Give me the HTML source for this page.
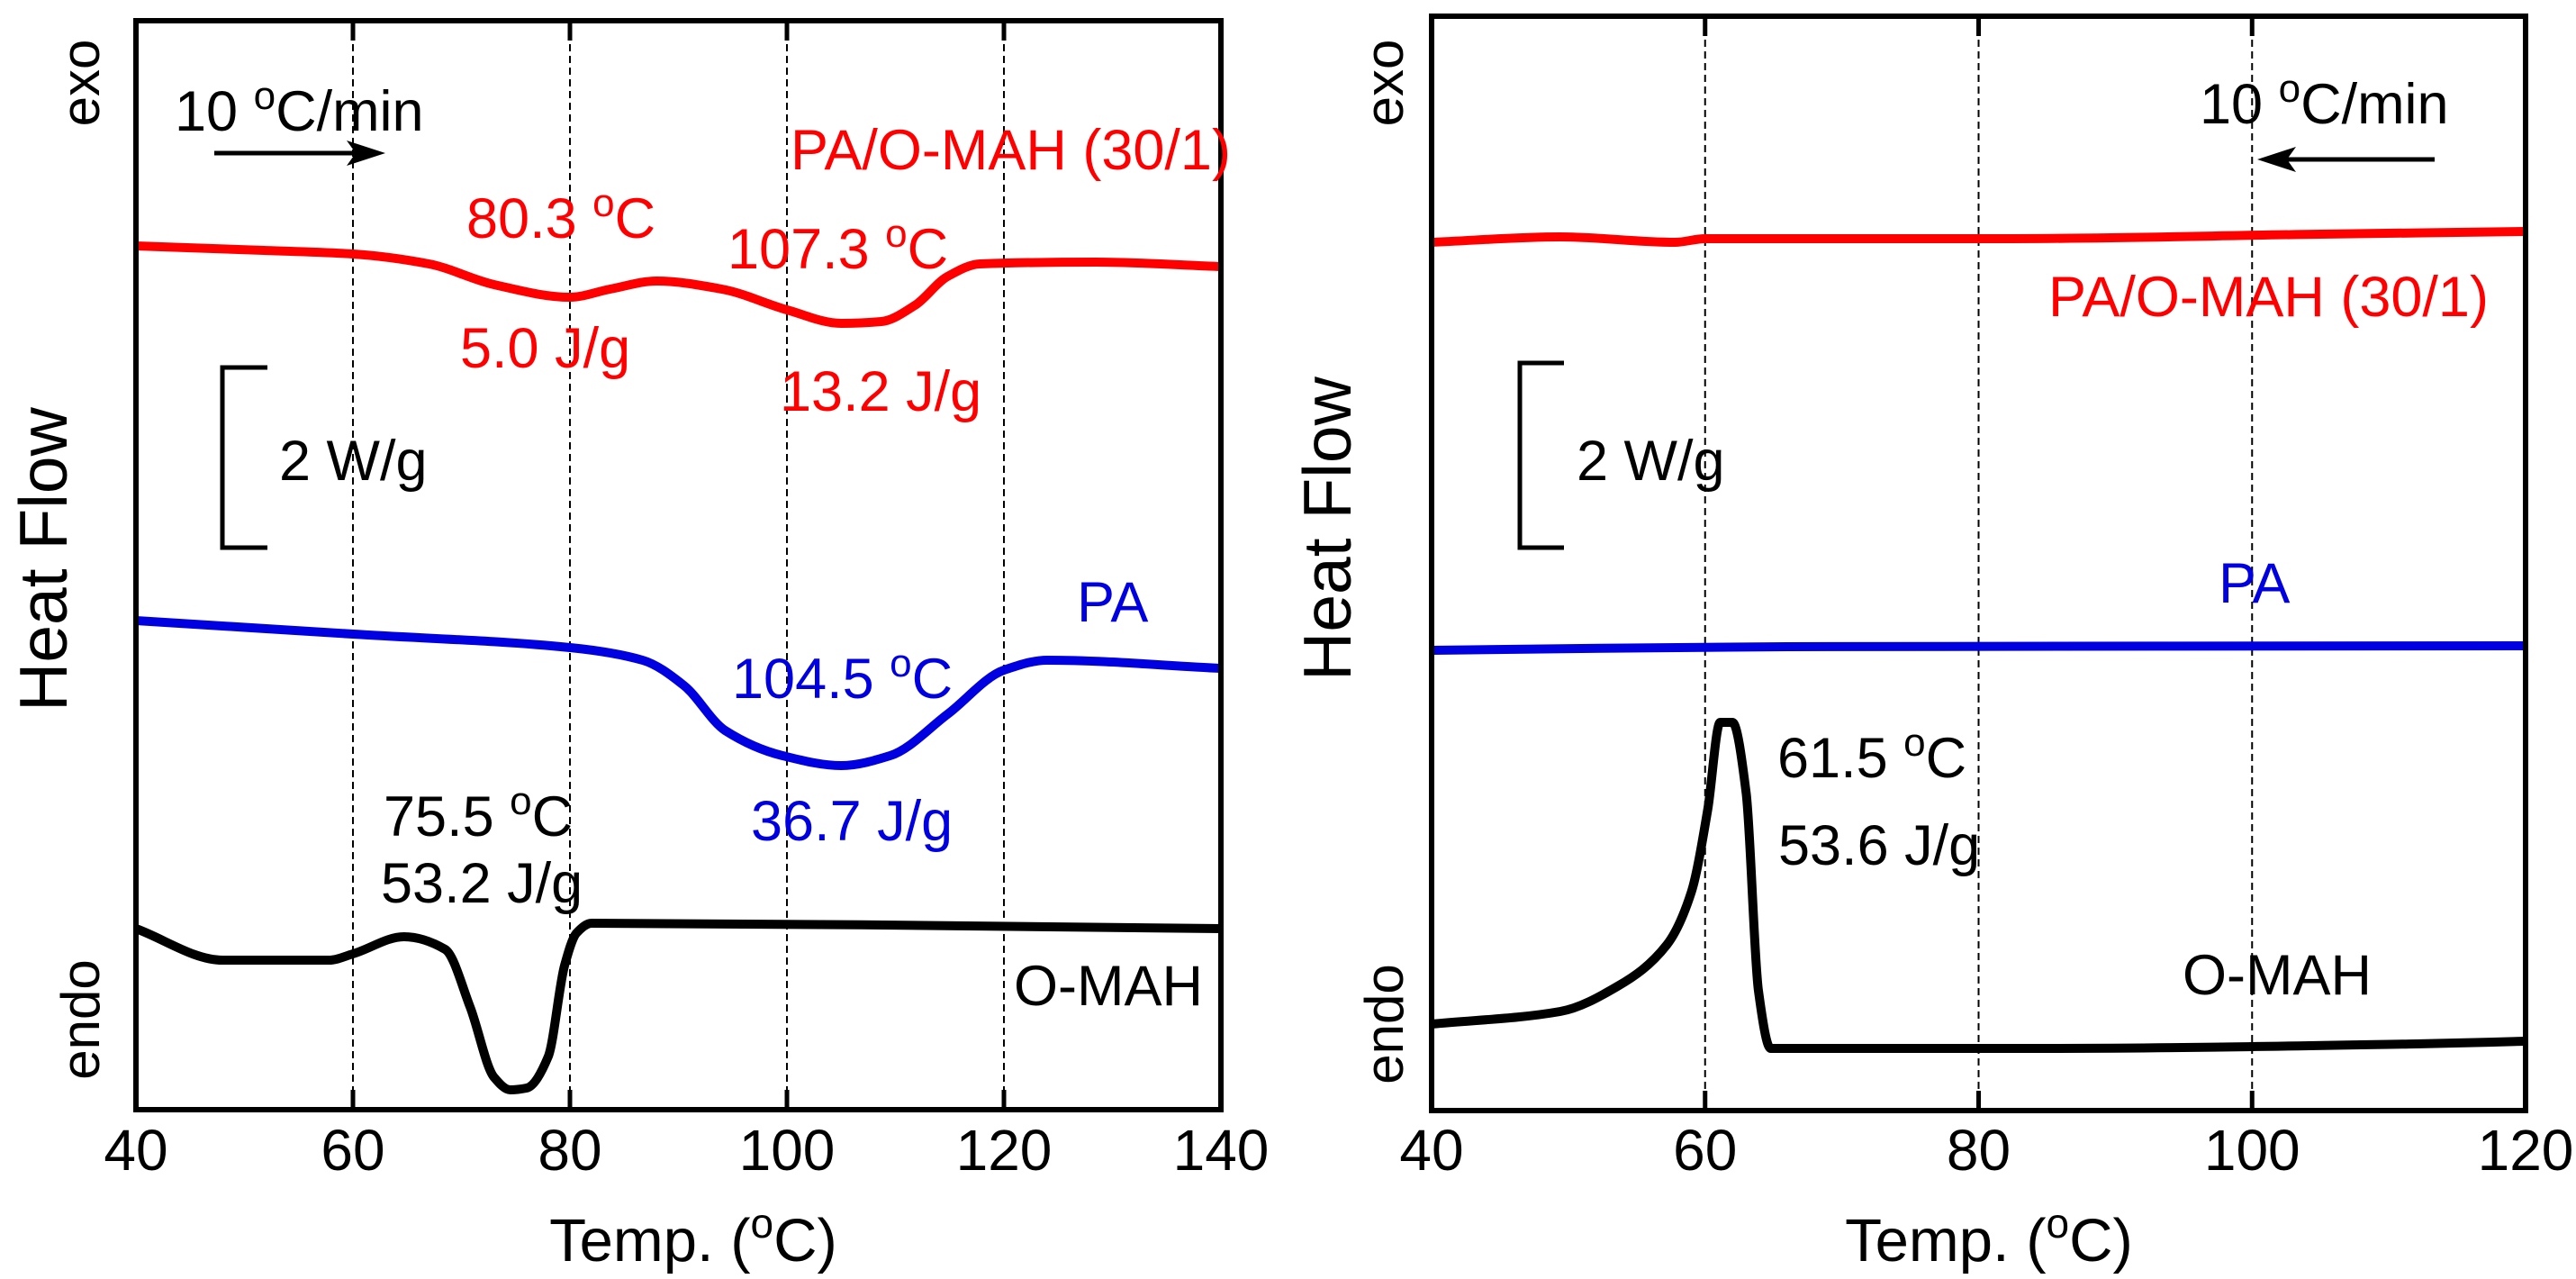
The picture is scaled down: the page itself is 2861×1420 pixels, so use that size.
<!DOCTYPE html>
<html><head><meta charset="utf-8"><style>
html,body{margin:0;padding:0;background:#fff;}
svg{display:block;font-family:"Liberation Sans",Arial,sans-serif;}
</style></head><body>
<svg id="fig" width="2861" height="1420" viewBox="0 0 2861 1420" xmlns="http://www.w3.org/2000/svg">
<g id="left"></g>
<g id="right"></g>
</svg>
<script>
// Left panel (heating) data: temperature (°C) and heat flow (W/g, offset units)
const L_redT = [40,51.8,60,67,73,80,83.7,88,94,100,105,108.7,111.8,114.8,117.8,128.5,140];
const L_redY = [9.59,9.54,9.50,9.39,9.16,9.02,9.11,9.20,9.11,8.88,8.73,8.75,8.93,9.25,9.39,9.41,9.36];
const L_blueT = [40,60,80,86.7,90.5,94.3,99.6,105,109.5,114.8,120,124,140];
const L_blueY = [5.43,5.28,5.13,4.99,4.71,4.21,3.93,3.82,3.93,4.39,4.88,4.99,4.90];
const L_blackT = [40,48,57.8,60,64.7,68.5,70.8,73,74.5,76,78,79.5,80.6,82,140];
const L_blackY = [2.01,1.66,1.66,1.73,1.92,1.78,1.14,0.36,0.22,0.24,0.59,1.60,1.96,2.07,2.01];
const L_ticks = [40,60,80,100,120,140];
const L_grid = [60,80,100,120];
// Right panel (cooling) data
const R_redT = [40,49.4,57.8,60,82,105,120];
const R_redY = [9.64,9.70,9.64,9.68,9.68,9.73,9.76];
const R_blueT = [40,66,120];
const R_blueY = [5.11,5.15,5.16];
const R_blackT = [40,49.4,53.6,57.2,59,60.2,61.1,62,63,63.9,64.8,84.4,112,120];
const R_blackY = [0.96,1.10,1.38,1.84,2.43,3.35,4.31,4.31,3.53,1.33,0.69,0.69,0.74,0.77];
const R_ticks = [40,60,80,100,120];
const R_grid = [60,80,100];

const NS="http://www.w3.org/2000/svg";
function mk(parent,tag,attrs,text){const e=document.createElementNS(NS,tag);for(const k in attrs)e.setAttribute(k,attrs[k]);if(text!==undefined)e.textContent=text;parent.appendChild(e);return e;}

// monotone cubic (Fritsch-Carlson) path through points with increasing x
function monotone(pts){
  const n=pts.length;
  if(n<3) return 'M'+pts.map(p=>p[0].toFixed(1)+','+p[1].toFixed(1)).join(' L');
  const dx=[],s=[];
  for(let i=0;i<n-1;i++){dx.push(pts[i+1][0]-pts[i][0]);s.push((pts[i+1][1]-pts[i][1])/dx[i]);}
  const m=new Array(n);
  m[0]=s[0];m[n-1]=s[n-2];
  for(let i=1;i<n-1;i++){
    if(s[i-1]*s[i]<=0) m[i]=0;
    else{const w1=2*dx[i]+dx[i-1],w2=dx[i]+2*dx[i-1];m[i]=(w1+w2)/(w1/s[i-1]+w2/s[i]);}
  }
  let d='M'+pts[0][0].toFixed(1)+','+pts[0][1].toFixed(1);
  for(let i=0;i<n-1;i++){
    const h=dx[i]/3;
    d+=' C'+(pts[i][0]+h).toFixed(1)+','+(pts[i][1]+m[i]*h).toFixed(1)+' '+(pts[i+1][0]-h).toFixed(1)+','+(pts[i+1][1]-m[i+1]*h).toFixed(1)+' '+pts[i+1][0].toFixed(1)+','+pts[i+1][1].toFixed(1);
  }
  return d;
}

function panel(g,cfg){
  const x=t=>cfg.x0+(t-cfg.tmin)/(cfg.tmax-cfg.tmin)*(cfg.x1-cfg.x0);
  const y=v=>cfg.yb-v*100;
  cfg.grid.forEach(t=>{
    const l=mk(g,'line',{x1:x(t),x2:x(t),y1:cfg.yt,y2:cfg.yb,stroke:'#000','stroke-width':2,'stroke-dasharray':'8,5'});
    
    
  });
  cfg.ticks.forEach(t=>{
    const a=mk(g,'line',{x1:x(t),x2:x(t),y1:cfg.yb,y2:cfg.yb-22,stroke:'#000','stroke-width':5});
    
    
    const b=mk(g,'line',{x1:x(t),x2:x(t),y1:cfg.yt,y2:cfg.yt+22,stroke:'#000','stroke-width':5});
    
    
    const tx=mk(g,'text',{x:x(t),y:1299,'font-size':64,'text-anchor':'middle'},String(t));
    
    
  });
  cfg.series.forEach(s=>{
    const pts=s.T.map((t,i)=>[x(t),y(s.Y[i])]);
    const p=mk(g,'path',{d:monotone(pts),fill:'none',stroke:s.c,'stroke-width':10,'stroke-linejoin':'round'});
    
    
  });
  const f=mk(g,'rect',{x:cfg.x0,y:cfg.yt,width:cfg.x1-cfg.x0,height:cfg.yb-cfg.yt,fill:'none',stroke:'#000','stroke-width':6});
  
  
}

function txt(g,x,y,s,html,color,name,extra){
  const e=mk(g,'text',Object.assign({x:x,y:y,'font-size':s,fill:color||'#000'},extra||{}));
  e.innerHTML=html;
  
  
  return e;
}
const deg='<tspan dy="-24" font-size="44">o</tspan><tspan dy="24">C</tspan>';
const FS=63;

const gl=document.getElementById('left');
panel(gl,{x0:151,x1:1356,yt:23,yb:1232,tmin:40,tmax:140,ticks:L_ticks,grid:L_grid,series:[
 {T:L_redT,Y:L_redY,c:'#ff0000',n:'pa-o-mah-curve'},
 {T:L_blueT,Y:L_blueY,c:'#0000e0',n:'pa-curve'},
 {T:L_blackT,Y:L_blackY,c:'#000',n:'o-mah-curve'}]});
const gr=document.getElementById('right');
panel(gr,{x0:1590,x1:2805,yt:18,yb:1233,tmin:40,tmax:120,ticks:R_ticks,grid:R_grid,series:[
 {T:R_redT,Y:R_redY,c:'#ff0000',n:'pa-o-mah-curve'},
 {T:R_blueT,Y:R_blueY,c:'#0000e0',n:'pa-curve'},
 {T:R_blackT,Y:R_blackY,c:'#000',n:'o-mah-curve'}]});

// Left annotations
txt(gl,194,145,FS,'10 '+deg+'/min','#000','rate-label');
mk(gl,'line',{x1:238,y1:170,x2:420,y2:170,stroke:'#000','stroke-width':5});
mk(gl,'path',{d:'M428,170 L385,156 L395,170 L385,184 Z',fill:'#000'});
txt(gl,878,188,FS,'PA/O-MAH (30/1)','#ff0000','pa-o-mah-label');
txt(gl,518,264,FS,'80.3 '+deg,'#ff0000','peak1-temp');
txt(gl,808,298,FS,'107.3 '+deg,'#ff0000','peak2-temp');
txt(gl,511,408,FS,'5.0 J/g','#ff0000','peak1-enthalpy');
txt(gl,866,456,FS,'13.2 J/g','#ff0000','peak2-enthalpy');
mk(gl,'path',{d:'M297,408 L247,408 L247,608 L297,608',fill:'none',stroke:'#000','stroke-width':5});
txt(gl,310,533,FS,'2 W/g','#000','scale-bar-label');
txt(gl,1196,690,FS,'PA','#0000e0','pa-label');
txt(gl,813,775,FS,'104.5 '+deg,'#0000e0','pa-peak-temp');
txt(gl,834,933,FS,'36.7 J/g','#0000e0','pa-enthalpy');
txt(gl,426,928,FS,'75.5 '+deg,'#000','o-mah-peak-temp');
txt(gl,423,1002,FS,'53.2 J/g','#000','o-mah-enthalpy');
txt(gl,1126,1116,FS,'O-MAH','#000','o-mah-label');
txt(gl,0,0,60,'exo','#000','exo-label',{transform:'translate(110,92) rotate(-90)','text-anchor':'middle'});
txt(gl,0,0,60,'endo','#000','endo-label',{transform:'translate(110,1132) rotate(-90)','text-anchor':'middle'});
txt(gl,0,0,75,'Heat Flow','#000','y-axis-title',{transform:'translate(74,621) rotate(-90)','text-anchor':'middle'});
txt(gl,770,1400,67,'Temp. (<tspan dy="-26" font-size="46">o</tspan><tspan dy="26">C)</tspan>','#000','x-axis-title',{'text-anchor':'middle'});

// Right annotations
txt(gr,2443,137,FS,'10 '+deg+'/min','#000','rate-label');
mk(gr,'line',{x1:2515,y1:177,x2:2704,y2:177,stroke:'#000','stroke-width':5});
mk(gr,'path',{d:'M2507,177 L2550,163 L2540,177 L2550,191 Z',fill:'#000'});
txt(gr,2275,351,FS,'PA/O-MAH (30/1)','#ff0000','pa-o-mah-label');
mk(gr,'path',{d:'M1737,403 L1688,403 L1688,608 L1737,608',fill:'none',stroke:'#000','stroke-width':5});
txt(gr,1751,533,FS,'2 W/g','#000','scale-bar-label');
txt(gr,2464,669,FS,'PA','#0000e0','pa-label');
txt(gr,1974,863,FS,'61.5 '+deg,'#000','o-mah-peak-temp');
txt(gr,1975,960,FS,'53.6 J/g','#000','o-mah-enthalpy');
txt(gr,2424,1104,FS,'O-MAH','#000','o-mah-label');
txt(gr,0,0,60,'exo','#000','exo-label',{transform:'translate(1558,92) rotate(-90)','text-anchor':'middle'});
txt(gr,0,0,60,'endo','#000','endo-label',{transform:'translate(1558,1137) rotate(-90)','text-anchor':'middle'});
txt(gr,0,0,75,'Heat Flow','#000','y-axis-title',{transform:'translate(1500,587) rotate(-90)','text-anchor':'middle'});
txt(gr,2209,1400,67,'Temp. (<tspan dy="-26" font-size="46">o</tspan><tspan dy="26">C)</tspan>','#000','x-axis-title',{'text-anchor':'middle'});
</script>
</body></html>
